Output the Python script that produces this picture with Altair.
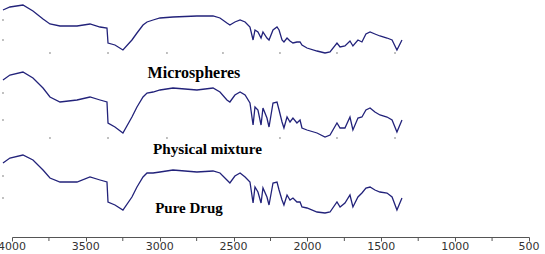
import altair as alt
import pandas as pd

# Wavenumbers (cm-1) sampled along the spectra
wavenumber = [4061, 4014, 3926, 3858, 3790, 3743, 3675, 3560, 3472, 3404,
              3357, 3350, 3303, 3249, 3188, 3154, 3113, 3086, 3045, 2998,
              2910, 2748, 2639, 2592, 2545, 2525, 2491, 2456, 2422, 2389,
              2368, 2355, 2335, 2314, 2301, 2274, 2260, 2233, 2206, 2192,
              2172, 2159, 2138, 2118, 2098, 2071, 2050, 2037, 2003, 1935,
              1881, 1847, 1800, 1779, 1746, 1712, 1692, 1658, 1631, 1604,
              1576, 1543, 1509, 1461, 1427, 1394, 1360]

# Offset transmittance (arbitrary units) for each spectrum
t_microspheres = [227, 230, 232, 226, 218, 213, 211, 211, 213, 210,
                  209, 194, 192, 187, 197, 204, 212, 215, 217, 219,
                  220, 221, 221, 219, 214, 212, 215, 217, 215, 210,
                  197, 207, 205, 199, 205, 199, 197, 207, 210, 207,
                  197, 195, 199, 196, 194, 195, 195, 192, 189, 186,
                  184, 185, 194, 190, 191, 196, 191, 197, 195, 203,
                  205, 203, 201, 199, 197, 187, 197]

t_physical = [157, 162, 165, 159, 149, 140, 135, 137, 140, 137,
              135, 114, 110, 104, 120, 130, 140, 144, 145, 147,
              149, 147, 149, 145, 137, 135, 142, 145, 142, 134,
              112, 130, 127, 112, 129, 119, 110, 134, 135, 127,
              115, 109, 120, 115, 119, 114, 117, 109, 107, 104,
              100, 102, 114, 109, 109, 120, 107, 119, 120, 127,
              129, 125, 122, 120, 117, 105, 117]

t_pure = [74, 79, 82, 77, 67, 59, 55, 55, 60, 57,
          55, 35, 32, 27, 40, 50, 60, 64, 64, 65,
          67, 65, 66, 64, 57, 54, 61, 64, 60, 55,
          34, 50, 45, 34, 49, 40, 32, 54, 55, 47,
          37, 32, 42, 37, 39, 35, 35, 30, 29, 25,
          24, 25, 35, 30, 34, 42, 30, 40, 44, 49,
          50, 47, 45, 44, 40, 27, 39]

# Labels
label_text = ["Microspheres", "Physical mixture", "Pure Drug"]
label_wn = [2768, 2677, 2802]
label_t = [159, 83, 24]
label_size = [16, 15.2, 15]

# Axis ticks
major_ticks = [4000, 3500, 3000, 2500, 2000, 1500, 1000, 500]
major_labels = ["4000", "3500", "3000", "2500", "2000", "1500", "1000", "500"]
minor_ticks = [3750, 3250, 2750, 2250, 1750, 1250, 750]

# Residual tick dots of the original sub-plots
dot_wn = [4061, 4061, 4061, 4061, 4061, 4061,
          3743, 3350, 2951, 2572, 2186, 1800, 1407,
          3743, 3350, 2951, 2186, 1800, 1407]
dot_t = [217, 197, 144, 117, 61, 39,
         184, 184, 184, 184, 184, 184, 184,
         99, 99, 99, 99, 99, 99]

rows = []
for name, vals in [("Microspheres", t_microspheres),
                   ("Physical mixture", t_physical),
                   ("Pure Drug", t_pure)]:
    for w, t in zip(wavenumber, vals):
        rows.append({"wn": w, "t": t, "sample": name})
df = pd.DataFrame(rows)

dots = pd.DataFrame({"wn": dot_wn, "t": dot_t})
minor = pd.DataFrame({"wn": minor_ticks})
major = pd.DataFrame({"wn": major_ticks, "lab": major_labels})

xscale = alt.Scale(domain=[4000, 500], nice=False)
yscale = alt.Scale(domain=[0, 237], nice=False)

xaxis = alt.Axis(values=major_ticks, labels=False,
                 grid=False, domainColor="#555555", tickColor="#555555",
                 tickSize=4)

lines = alt.Chart(df).mark_line(color="#22227a", strokeWidth=1.3, clip=False).encode(
    x=alt.X("wn:Q", scale=xscale, title=None, axis=xaxis),
    y=alt.Y("t:Q", scale=yscale, axis=None),
    detail="sample:N",
)

dot_layer = alt.Chart(dots).mark_square(size=3, color="#777777", clip=False).encode(
    x=alt.X("wn:Q", scale=xscale, title=None, axis=xaxis),
    y=alt.Y("t:Q", scale=yscale, axis=None),
)

minor_layer = alt.Chart(minor).mark_rule(color="#555555", strokeWidth=1).encode(
    x=alt.X("wn:Q", scale=xscale, title=None, axis=xaxis),
    y=alt.value(237),
    y2=alt.value(241),
)

tick_label_layer = alt.Chart(major).mark_text(
    font="DejaVu Sans", fontSize=11, color="#333333",
    align="center", baseline="top", clip=False
).encode(
    x=alt.X("wn:Q", scale=xscale, title=None, axis=xaxis),
    y=alt.value(241),
    text="lab:N",
)

text_layers = []
for txt, w, t, s in zip(label_text, label_wn, label_t, label_size):
    d = pd.DataFrame({"text": [txt], "wn": [w], "t": [t]})
    text_layers.append(
        alt.Chart(d).mark_text(
            font="Liberation Serif", fontWeight="bold", color="#000000",
            align="center", baseline="alphabetic", fontSize=s
        ).encode(
            x=alt.X("wn:Q", scale=xscale, title=None, axis=xaxis),
            y=alt.Y("t:Q", scale=yscale, axis=None),
            text="text:N",
        )
    )

chart = alt.layer(minor_layer, tick_label_layer, dot_layer, lines, *text_layers).properties(
    width=517, height=237,
    autosize=alt.AutoSizeParams(type="none"),
    padding={"left": 12, "top": 0, "right": 16, "bottom": 17},
    background="#ffffff",
).configure_view(stroke=None)

chart.save("out.html", embed_options={"renderer": "svg", "actions": False})
